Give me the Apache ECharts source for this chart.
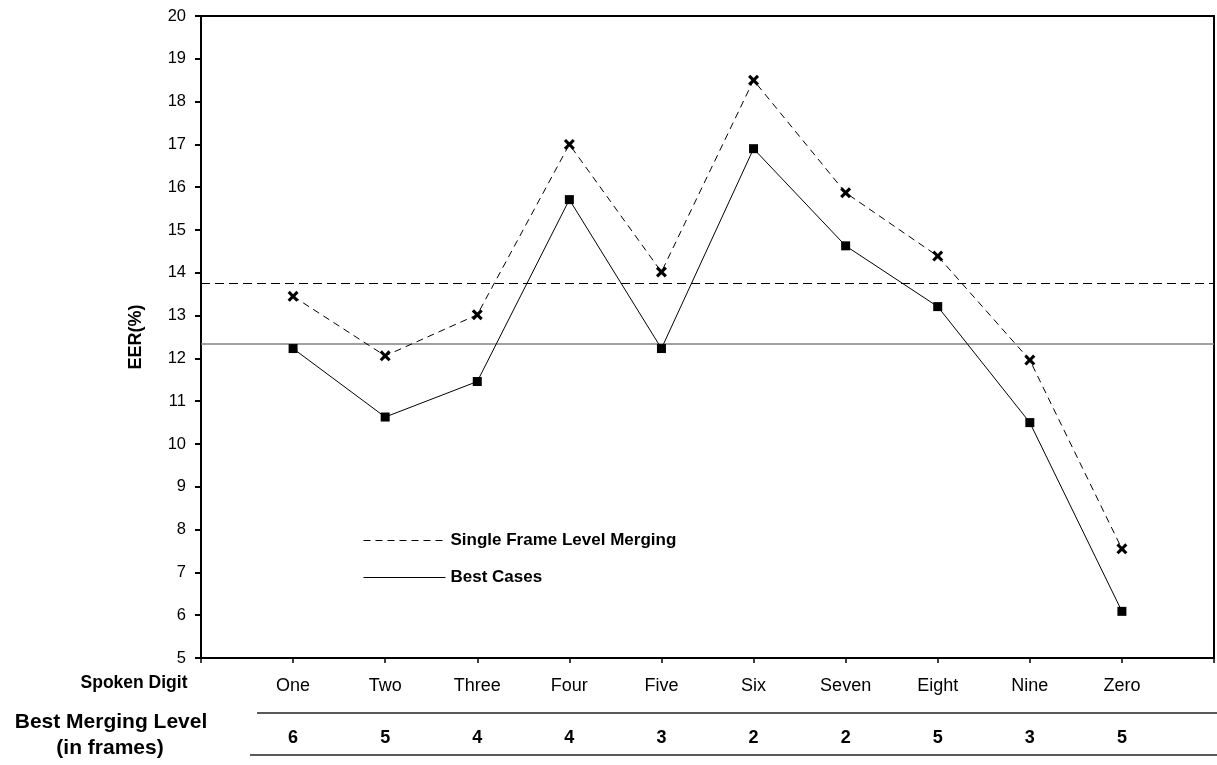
<!DOCTYPE html>
<html>
<head>
<meta charset="utf-8">
<script src="https://cdn.jsdelivr.net/npm/echarts@6/dist/echarts.min.js"></script>
<style>
  html, body { margin: 0; padding: 0; background: #fff; }
  #chart { width: 1217px; height: 765px; }
</style>
</head>
<body>
<div id="chart"></div>
<script>
// Spoken digits on the x axis
const categories = ['One', 'Two', 'Three', 'Four', 'Five', 'Six', 'Seven', 'Eight', 'Nine', 'Zero'];
// EER (%) per digit
const singleFrame = [13.45, 12.06, 13.02, 17.0, 14.02, 18.5, 15.87, 14.39, 11.96, 7.55];
const bestCases = [12.23, 10.63, 11.46, 15.71, 12.23, 16.9, 14.63, 13.21, 10.5, 6.09];
// Best merging level (in frames) for each digit
const bestMergingLevel = [6, 5, 4, 4, 3, 2, 2, 5, 3, 5];
// Average EER reference lines
const meanSingleFrame = 13.75;
const meanBestCases = 12.35;
// Value axis range
const yMin = 5, yMax = 20, yStep = 1;

const FONT = '"Liberation Sans", Arial, Helvetica, sans-serif';

// One empty slot on each side so digits sit on the inner ticks
const padCats = [''].concat(categories, ['']);
const padLevels = [''].concat(bestMergingLevel.map(String), ['']);
const pad = arr => ['-'].concat(arr, ['-']);

// Filled "x" marker
const crossPath = 'path://M0,2L2,0L5,3L8,0L10,2L7,5L10,8L8,10L5,7L2,10L0,8L3,5Z';

const chart = echarts.init(document.getElementById('chart'), null, { renderer: 'canvas' });

const gridBox = { left: 201, right: 1, top: 16, bottom: 107 };

chart.setOption({
  animation: false,
  backgroundColor: '#fff',
  textStyle: { fontFamily: FONT, color: '#000' },
  grid: [
    Object.assign({ show: true, borderColor: '#000', borderWidth: 2, backgroundColor: 'transparent' }, gridBox),
    Object.assign({ show: false }, gridBox)
  ],
  legend: {
    orient: 'vertical',
    left: 363,
    top: 532,
    padding: 0,
    itemWidth: 82,
    itemHeight: 18,
    itemGap: 20,
    itemStyle: { opacity: 0 },
    lineStyle: { width: 1 },
    textStyle: { fontFamily: FONT, fontSize: 17, fontWeight: 'bold', color: '#000' },
    data: ['Single Frame Level Merging', 'Best Cases']
  },
  xAxis: [
    {
      type: 'category',
      gridIndex: 0,
      data: padCats,
      boundaryGap: false,
      axisLine: { show: true, lineStyle: { color: '#000', width: 2 } },
      axisTick: { show: true, inside: false, length: 5, interval: 0, lineStyle: { color: '#000', width: 1.5 } },
      axisLabel: { interval: 0, margin: 19, fontFamily: FONT, fontSize: 18, color: '#000' },
      splitLine: { show: false }
    },
    {
      type: 'category',
      gridIndex: 1,
      data: padLevels,
      boundaryGap: false,
      axisLine: { show: false },
      axisTick: { show: false },
      axisLabel: { interval: 0, margin: 71, fontFamily: FONT, fontSize: 18, fontWeight: 'bold', color: '#000' },
      splitLine: { show: false }
    }
  ],
  yAxis: [
    {
      type: 'value',
      gridIndex: 0,
      min: yMin,
      max: yMax,
      interval: yStep,
      name: 'EER(%)',
      nameLocation: 'middle',
      nameGap: 56,
      nameTextStyle: { fontFamily: FONT, fontSize: 18, fontWeight: 'bold', color: '#000' },
      axisLine: { show: true, lineStyle: { color: '#000', width: 2 } },
      axisTick: { show: true, inside: false, length: 6, lineStyle: { color: '#000', width: 2 } },
      axisLabel: { margin: 15, fontFamily: FONT, fontSize: 16.5, color: '#000' },
      splitLine: { show: false }
    },
    {
      type: 'value',
      gridIndex: 1,
      min: yMin,
      max: yMax,
      show: false
    }
  ],
  series: [
    {
      name: 'Single Frame Level Merging',
      type: 'line',
      xAxisIndex: 0,
      yAxisIndex: 0,
      data: pad(singleFrame),
      symbol: crossPath,
      symbolSize: 11,
      showAllSymbol: true,
      itemStyle: { color: '#000' },
      lineStyle: { color: '#000', width: 1, type: [7, 5] },
      z: 3,
      markLine: {
        silent: true,
        symbol: ['none', 'none'],
        label: { show: false },
        lineStyle: { color: '#000', width: 1, type: [9, 5] },
        data: [{ yAxis: meanSingleFrame }],
        z: 2
      }
    },
    {
      name: 'Best Cases',
      type: 'line',
      xAxisIndex: 0,
      yAxisIndex: 0,
      data: pad(bestCases),
      symbol: 'rect',
      symbolSize: 9,
      showAllSymbol: true,
      itemStyle: { color: '#000' },
      lineStyle: { color: '#000', width: 1, type: 'solid' },
      z: 3,
      markLine: {
        silent: true,
        symbol: ['none', 'none'],
        label: { show: false },
        lineStyle: { color: '#808080', width: 1.5, type: 'solid' },
        data: [{ yAxis: meanBestCases }],
        z: 2
      }
    }
  ],
  graphic: [
    {
      type: 'text', x: 134, y: 683,
      style: { text: 'Spoken Digit', font: 'bold 17.5px ' + FONT, fill: '#000', align: 'center', verticalAlign: 'middle' }
    },
    {
      type: 'text', x: 111, y: 722,
      style: { text: 'Best Merging Level', font: 'bold 21px ' + FONT, fill: '#000', align: 'center', verticalAlign: 'middle' }
    },
    {
      type: 'text', x: 110, y: 748,
      style: { text: '(in frames)', font: 'bold 21px ' + FONT, fill: '#000', align: 'center', verticalAlign: 'middle' }
    },
    {
      type: 'line',
      shape: { x1: 257, y1: 713, x2: 1217, y2: 713 },
      style: { stroke: '#222', lineWidth: 1.5 }
    },
    {
      type: 'line',
      shape: { x1: 250, y1: 755, x2: 1217, y2: 755 },
      style: { stroke: '#222', lineWidth: 1.5 }
    }
  ]
});
</script>
</body>
</html>
